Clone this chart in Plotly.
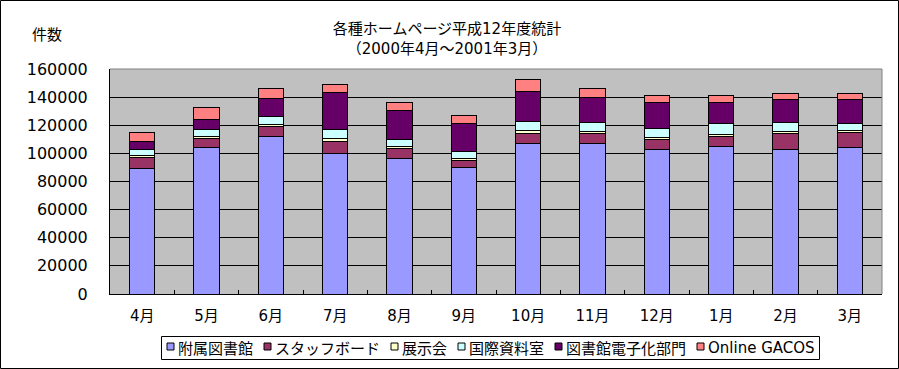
import plotly.graph_objects as go

months = ["4月", "5月", "6月", "7月", "8月", "9月", "10月", "11月", "12月", "1月", "2月", "3月"]

fuzoku = [89000, 104200, 112100, 99800, 96400, 89800, 106900, 107100, 102800, 105000, 102800, 104200]
staff = [8200, 6600, 7200, 8700, 7100, 5300, 7300, 7200, 7300, 7200, 11500, 10600]
tenji = [1300, 1400, 1400, 1800, 1400, 1300, 2400, 1500, 1200, 1200, 1500, 1500]
kokusai = [4300, 4800, 5400, 6700, 4800, 4800, 5900, 6500, 6500, 7900, 6200, 5000]
denshika = [5500, 6900, 13000, 26100, 20600, 20100, 21400, 17300, 18200, 14700, 16200, 16900]
gacos = [6200, 8400, 6700, 6200, 6200, 5300, 8300, 6200, 5500, 5500, 4700, 4700]

series_names = ["附属図書館", "スタッフボード", "展示会", "国際資料室", "図書館電子化部門", "Online GACOS"]
series_values = [fuzoku, staff, tenji, kokusai, denshika, gacos]
series_colors = ["#9999FF", "#993366", "#FFFFCC", "#CCFFFF", "#660066", "#FF8080"]

y_ticks = [0, 20000, 40000, 60000, 80000, 100000, 120000, 140000, 160000]

FONT = "DejaVu Sans, Noto Sans CJK JP, sans-serif"
LEG_FONT = "Noto Sans CJK JP, sans-serif"

fig = go.Figure()
for name, vals, col in zip(series_names, series_values, series_colors):
    fig.add_trace(go.Bar(
        x=months, y=vals, name=name, showlegend=False,
        marker=dict(color=col, line=dict(color="black", width=1)),
    ))

W, H = 899, 369
ML, MR, MT, MB = 110, 17, 69, 75
pw = W - ML - MR
ph = H - MT - MB


def px(x):
    return (x - ML) / pw


def py(y):
    return (MT + ph - y) / ph


shapes = [
    dict(type="line", xref="paper", yref="paper", x0=0, x1=1, y0=1, y1=1,
         line=dict(color="#808080", width=1), layer="above"),
    dict(type="line", xref="paper", yref="paper", x0=1, x1=1, y0=0, y1=1,
         line=dict(color="#808080", width=1), layer="above"),
    dict(type="rect", xref="paper", yref="paper",
         x0=px(0.5), x1=px(W - 0.5), y0=py(H - 0.5), y1=py(0.5),
         line=dict(color="black", width=1), layer="above"),
]
annotations = [dict(
    text="件数", xref="paper", yref="paper",
    x=px(47), y=py(35), xanchor="center", yanchor="middle",
    showarrow=False, font=dict(size=15, family=FONT),
)]

# custom legend (Excel-style: small square, text right next to it)
LEG_FS = 15
cjk_w = {"Online GACOS": 104}
leg_left, leg_right, leg_top, leg_bot = 161.5, 819.5, 336.5, 359.5
leg_cy = 347.5
sq = 7
x = 167
for name, col in zip(series_names, series_colors):
    shapes.append(dict(
        type="rect", xref="paper", yref="paper",
        x0=px(x), x1=px(x + sq), y0=py(leg_cy + sq / 2 - 1), y1=py(leg_cy - sq / 2 - 1),
        fillcolor=col, line=dict(color="black", width=1), layer="above",
    ))
    annotations.append(dict(
        text=name, xref="paper", yref="paper", x=px(x + sq + 2), y=py(leg_cy),
        xanchor="left", yanchor="middle", showarrow=False,
        font=dict(size=LEG_FS, family=FONT if name.startswith("Online") else LEG_FONT),
    ))
    tw = cjk_w.get(name, LEG_FS * len(name))
    x = x + sq + 2 + tw + 13
shapes.append(dict(
    type="rect", xref="paper", yref="paper",
    x0=px(leg_left), x1=px(leg_right), y0=py(leg_bot), y1=py(leg_top),
    line=dict(color="black", width=1), layer="above",
))

fig.update_layout(
    width=W, height=H,
    barmode="stack", bargap=0.61,
    margin=dict(l=ML, r=MR, t=MT, b=MB, pad=0, autoexpand=False),
    paper_bgcolor="white", plot_bgcolor="#C0C0C0",
    font=dict(family=FONT, size=15, color="black"),
    title=dict(
        text="各種ホームページ平成12年度統計<br>（2000年4月～2001年3月）",
        x=447 / W, xanchor="center", y=1 - 34 / H, yanchor="middle",
        font=dict(size=15, family=FONT),
    ),
    showlegend=False,
    xaxis=dict(
        showline=True, linecolor="black", linewidth=1,
        ticks="inside", ticklen=4, tickcolor="black", tickson="boundaries",
        showgrid=False, tickfont=dict(size=15), ticklabelstandoff=8,
        tickangle=0,
    ),
    yaxis=dict(
        range=[0, 160000], tickvals=y_ticks, tickformat="d",
        showline=True, linecolor="black", linewidth=1,
        ticks="inside", ticklen=6, tickcolor="black",
        showgrid=True, gridcolor="black", gridwidth=1,
        tickfont=dict(size=16), ticklabelstandoff=18, zeroline=False,
    ),
    annotations=annotations,
    shapes=shapes,
)

fig.write_html(
    "out.html",
    config={"displayModeBar": False},
    post_script="document.body.style.margin='0';document.body.style.overflow='hidden';",
)
